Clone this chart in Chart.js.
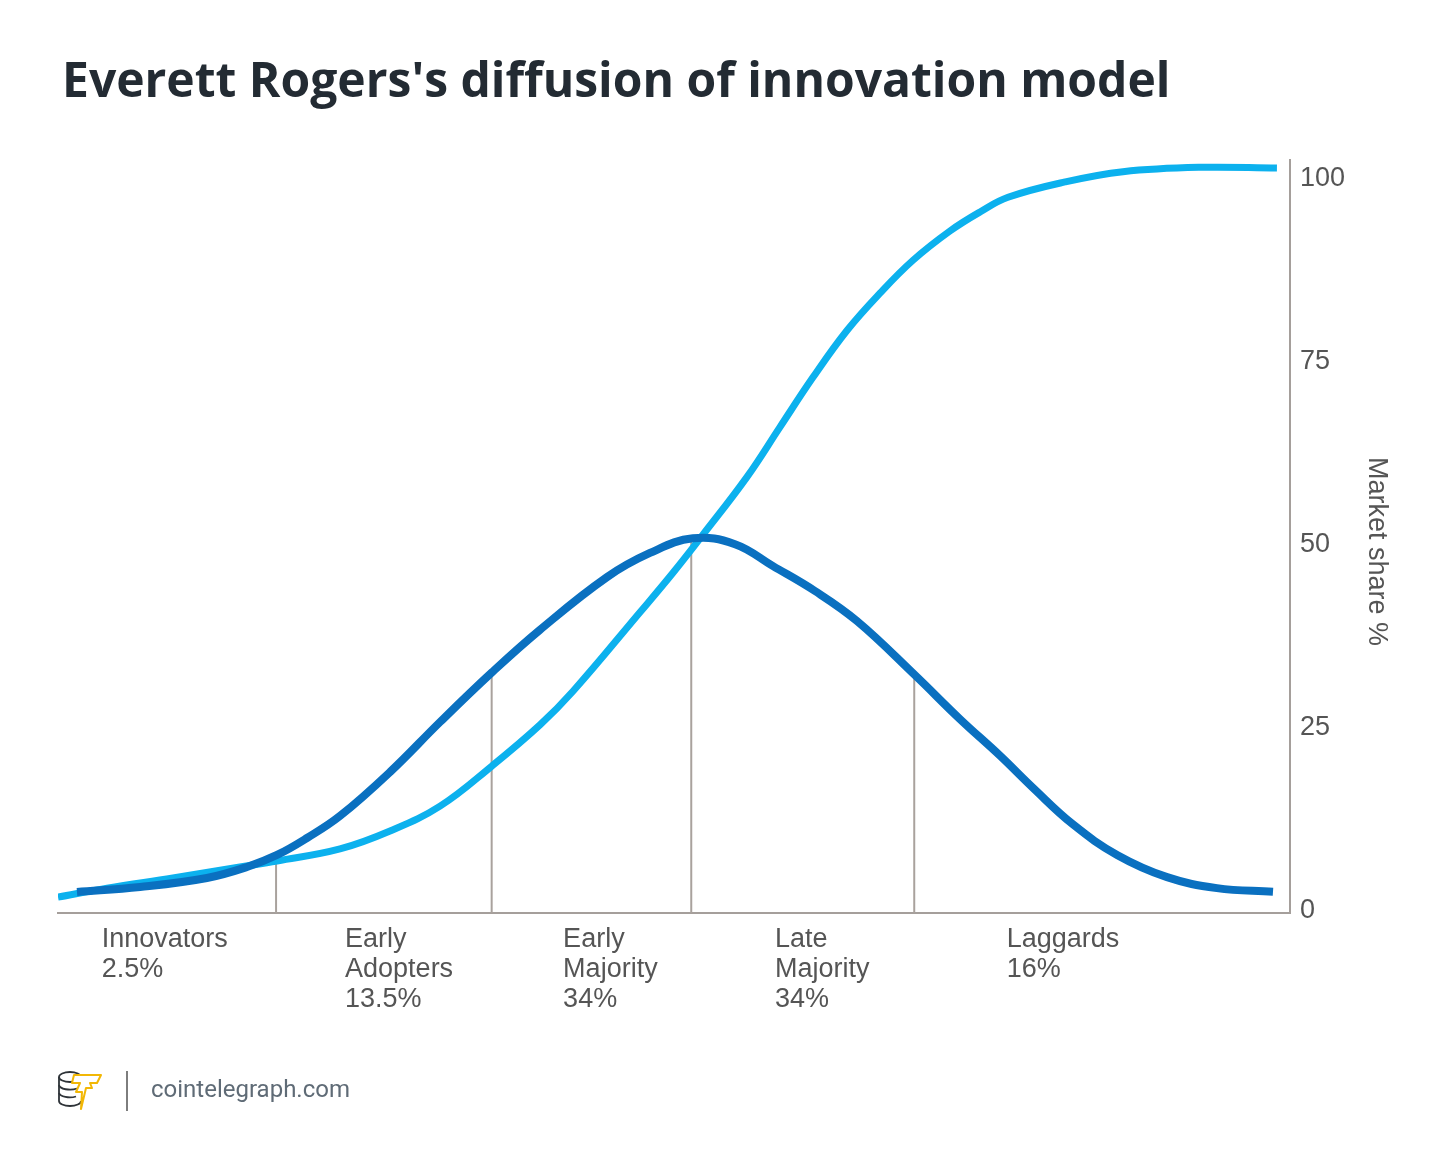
<!DOCTYPE html>
<html>
<head>
<meta charset="utf-8">
<script src="https://cdn.jsdelivr.net/npm/chart.js@4.4.1/dist/chart.umd.min.js"></script>
<style>
  html, body { margin: 0; padding: 0; background: #ffffff; }
  body { width: 1450px; height: 1171px; position: relative; overflow: hidden; }
  #chart { position: absolute; left: 0; top: 0; width: 1450px; height: 1171px; }
  #title { position: absolute; left: 62px; top: 55px; font-family: "Open Sans", sans-serif; font-weight: 700; font-size: 48px; line-height: 1; color: #232b33; white-space: nowrap; }
  #logo { position: absolute; left: 57px; top: 1068px; width: 48px; height: 46px; }
  #divider { position: absolute; left: 126px; top: 1071px; width: 2px; height: 40px; background: #7d7d7d; }
  #source { position: absolute; left: 151px; top: 1077px; font-family: Roboto, sans-serif; font-size: 24px; line-height: 1; color: #5f6b76; white-space: nowrap; }
</style>
</head>
<body>
<canvas id="chart" width="1450" height="1171"></canvas>
<div id="title">Everett Rogers's diffusion of innovation model</div>
<svg id="logo" viewBox="0 0 48 46" xmlns="http://www.w3.org/2000/svg">
  <g fill="none" stroke="#2e3338" stroke-width="1.8">
    <ellipse cx="13" cy="9" rx="11" ry="5"/>
    <path d="M2 9 V33 A11 5 0 0 0 24 33"/>
    <path d="M2 17 A11 5 0 0 0 20 20.5"/>
    <path d="M2 25 A11 5 0 0 0 19 28.5"/>
  </g>
  <path d="M17 7 L44 7 L40 15 L33 15 L35 20 L29 20 L24 41 L25 24 L19 24 L23 15 L15 15 Z" fill="#ffffff" stroke="#f2b705" stroke-width="2" stroke-linejoin="round"/>
</svg>
<div id="divider"></div>
<div id="source">cointelegraph.com</div>
<script>
// ---- data ----
// Cumulative adoption (S-curve): x positions and market share %
const sCurveX = [0, 3.98, 9.33, 14.77, 17.78, 22.89, 26.95, 31.01, 35.23, 39.12, 41.8, 47.24, 49.92, 52.35, 55.93, 58.6, 61.28, 64.04, 66.72, 69.4, 72.4, 74.84, 77.11, 81.74, 86.44, 92.7, 98.94];
const sCurveY = [1.78, 3.0, 4.39, 5.89, 6.71, 8.35, 10.8, 14.2, 19.7, 25.3, 29.9, 40.7, 46.1, 51.3, 59.2, 66.0, 72.8, 79.2, 84.3, 88.8, 92.8, 95.4, 97.4, 99.5, 100.9, 101.5, 101.4];
// Adopter distribution (bell curve)
const bellX = [1.54, 6.66, 12.09, 15.34, 17.78, 20.21, 22.89, 26.95, 31.01, 35.23, 39.12, 44.56, 48.05, 51.54, 54.95, 58.04, 61.44, 64.85, 69.56, 73.21, 76.46, 79.14, 82.39, 86.0, 90.02, 94.07, 98.62];
const bellY = [2.47, 3.16, 4.39, 5.89, 7.53, 9.85, 12.86, 18.87, 25.7, 32.5, 38.3, 45.5, 48.8, 50.8, 50.0, 47.0, 43.6, 39.5, 32.1, 26.1, 21.1, 16.7, 11.7, 7.5, 4.5, 3.0, 2.5];
// Segment dividers
const dividerX = [17.7, 35.2, 51.4, 69.5];
const dividerTop = [7.5, 32.5, 50.8, 32.2];
// Adopter categories
const categoryX = [3.55, 23.3, 41.0, 58.2, 77.0];
const categoryLabels = [
  ["Innovators", "2.5%"],
  ["Early", "Adopters", "13.5%"],
  ["Early", "Majority", "34%"],
  ["Late", "Majority", "34%"],
  ["Laggards", "16%"]
];
const yTicks = [0, 25, 50, 75, 100];
const yTitle = "Market share %";

const axisMin = -0.4;
const axisMax = 102.5;
const axisColor = "#a59f9b";

const pts = (xs, ys) => xs.map((x, i) => ({ x: x, y: ys[i] }));

const datasets = [
  {
    label: "Adopters",
    data: pts(bellX, bellY),
    borderColor: "#0a70c0",
    borderWidth: 8,
    pointRadius: 0,
    tension: 0.4,
    fill: false
  },
  {
    label: "Market share",
    data: pts(sCurveX, sCurveY),
    borderColor: "#0cb1ee",
    borderWidth: 7,
    pointRadius: 0,
    tension: 0.4,
    fill: false
  }
];
dividerX.forEach((x, i) => {
  datasets.push({
    label: "divider" + i,
    data: [{ x: x, y: axisMin }, { x: x, y: dividerTop[i] }],
    borderColor: "#a9a29d",
    borderWidth: 2,
    pointRadius: 0,
    tension: 0,
    fill: false
  });
});

Chart.defaults.font.family = "'Liberation Sans', Arial, sans-serif";

new Chart(document.getElementById("chart"), {
  type: "line",
  data: { datasets: datasets },
  options: {
    responsive: false,
    animation: false,
    devicePixelRatio: 1,
    layout: { padding: { left: 58, top: 160, right: 0, bottom: 138 } },
    plugins: { legend: { display: false }, tooltip: { enabled: false } },
    scales: {
      x: {
        type: "linear",
        position: "bottom",
        min: 0,
        max: 100,
        grid: { display: false, drawTicks: false },
        border: { display: true, color: axisColor, width: 2 },
        afterBuildTicks: (scale) => { scale.ticks = categoryX.map(v => ({ value: v })); },
        afterFit: (scale) => { scale.height = 120; },
        ticks: {
          align: "start",
          autoSkip: false,
          maxRotation: 0,
          padding: 12,
          color: "#555555",
          font: { size: 27, lineHeight: 1.111 },
          callback: (value, index) => categoryLabels[index]
        }
      },
      y: {
        type: "linear",
        position: "right",
        min: axisMin,
        max: axisMax,
        grid: { display: false, drawTicks: false },
        border: { display: true, color: axisColor, width: 2 },
        afterBuildTicks: (scale) => { scale.ticks = yTicks.map(v => ({ value: v })); },
        afterFit: (scale) => { scale.width = 160; },
        ticks: {
          padding: 10,
          color: "#555555",
          font: { size: 27 },
          callback: (value) => String(value)
        },
        title: {
          display: true,
          text: "    " + yTitle,
          color: "#555555",
          font: { size: 27, lineHeight: 1.2 },
          padding: { top: 57, bottom: 0 }
        }
      }
    }
  }
});
</script>
</body>
</html>
